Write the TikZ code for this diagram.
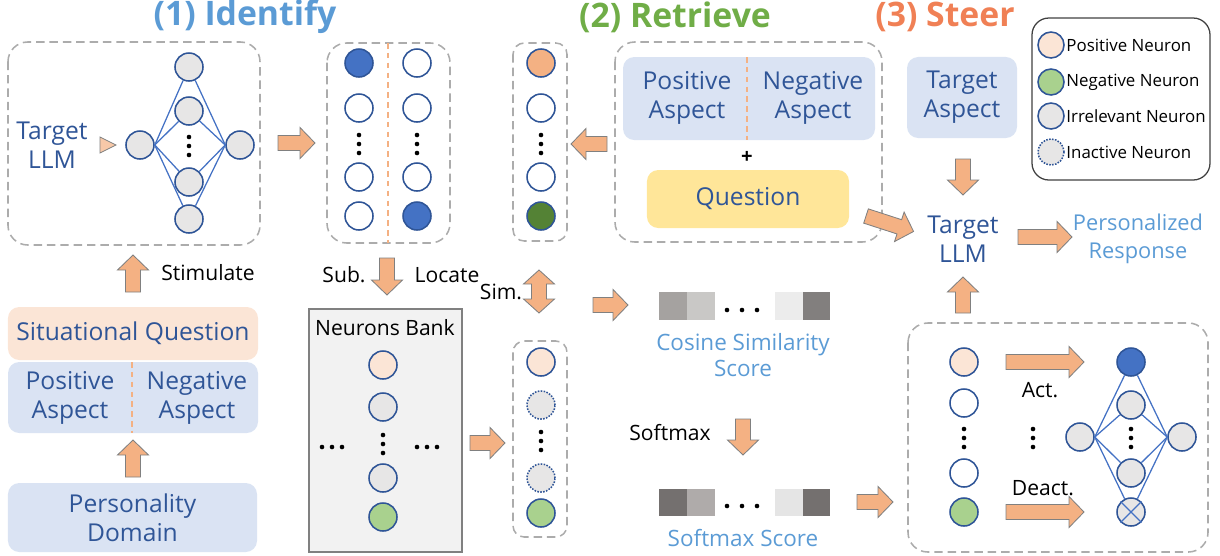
\documentclass[tikz,border=0pt]{standalone}
\usepackage{fontspec}
\setmainfont{Open Sans}
\usetikzlibrary{positioning}

\definecolor{nblue}{RGB}{47,85,151}
\definecolor{lblue}{RGB}{91,155,213}
\definecolor{boxblue}{RGB}{218,227,243}
\definecolor{peach}{RGB}{251,229,214}
\definecolor{qyellow}{RGB}{255,230,153}
\definecolor{aorange}{RGB}{244,177,131}
\definecolor{fblue}{RGB}{68,114,196}
\definecolor{dgreen}{RGB}{84,130,53}
\definecolor{lgreen}{RGB}{169,209,142}
\definecolor{ngray}{RGB}{231,230,230}
\definecolor{tgreen}{RGB}{112,173,71}
\definecolor{torange}{RGB}{240,128,85}

\tikzset{
  neuron/.style={circle, draw=nblue, line width=1.1pt, fill=ngray, minimum size=0.7cm, inner sep=0pt},
  emptyn/.style={neuron, fill=white},
  inact/.style={neuron, densely dotted},
  panel/.style={draw=gray!65, line width=1.1pt, dash pattern=on 6pt off 3.5pt, rounded corners=14pt},
  tagbox/.style={fill=boxblue, rounded corners=8pt, inner sep=0pt},
  blabel/.style={text=nblue, font=\fontsize{17.5}{20.5}\selectfont, align=center},
  blk/.style={text=black, font=\fontsize{15}{17}\selectfont},
  scoretxt/.style={text=lblue, font=\fontsize{16}{18}\selectfont, align=center},
  title/.style={font=\bfseries\fontsize{24}{28}\selectfont},
  legtxt/.style={text=black, font=\fontsize{12}{14}\selectfont, inner sep=1pt},
  wire/.style={draw=fblue, line width=0.9pt},
  divider/.style={draw=aorange, line width=1pt, dash pattern=on 4pt off 3pt},
  barrowstyle/.style={fill=aorange, draw=gray, line width=0.6pt},
  pics/vdots/.style={code={\foreach \d in {-9,0,9} \fill (0,\d) circle (2.3);}},
  pics/hdots/.style={code={\foreach \d in {-1,0,1} \fill (#1*\d,0) circle (2.3);}},
}

\newcommand{\barrow}[4]{%
  \begin{scope}[shift={(#1,#2)}, rotate=#3]
    \filldraw[barrowstyle] (0,-7.5) -- (#4-15,-7.5) -- (#4-15,-15.5) -- (#4,0)
      -- (#4-15,15.5) -- (#4-15,7.5) -- (0,7.5) -- cycle;
  \end{scope}}

\begin{document}
\begin{tikzpicture}[x=0.025cm, y=-0.025cm]
  \useasboundingbox (0,0) rectangle (1220,555);

  \node[title, text=lblue] (t1) at (245,17) {(1) Identify};
  \node[title, text=tgreen] (t2) at (675,17) {(2) Retrieve};
  \node[title, text=torange] (t3) at (945,17) {(3) Steer};

  \draw[panel] (8,42) rectangle (260,245);
  \node[blabel] (llm1) at (52,145) {Target\\LLM};
  \filldraw[fill=aorange!70, draw=gray, line width=0.6pt] (100,137) -- (116,145) -- (100,153) -- cycle;
  \node[neuron] (l1) at (140,145) {};
  \node[neuron] (m1) at (189,67) {};
  \node[neuron] (m2) at (189,111) {};
  \pic at (189,146) {vdots};
  \node[neuron] (m3) at (189,182) {};
  \node[neuron] (m4) at (189,219) {};
  \node[neuron] (r1) at (240,145) {};
  \foreach \m in {m1,m2,m3,m4}
    \draw[wire] (l1.east) -- (\m) (\m) -- (r1.west);

  \barrow{278}{143}{0}{37}

  \draw[panel] (327,43) rectangle (450,243);
  \draw[divider] (388,43) -- (388,243);
  \node[neuron, fill=fblue] (a1) at (359,63) {};
  \node[emptyn] (a2) at (359,108) {};
  \pic at (359,144) {vdots};
  \node[emptyn] (a3) at (359,177) {};
  \node[emptyn] (a4) at (359,216) {};
  \node[emptyn] (b1) at (417,63) {};
  \node[emptyn] (b2) at (417,108) {};
  \pic at (417,144) {vdots};
  \node[emptyn] (b3) at (417,177) {};
  \node[neuron, fill=fblue] (b4) at (417,216) {};

  \draw[panel, rounded corners=8pt] (513,43) rectangle (567,241);
  \node[neuron, fill=aorange] (c1) at (541,63) {};
  \node[emptyn] (c2) at (541,108) {};
  \pic at (541,144) {vdots};
  \node[emptyn] (c3) at (541,177) {};
  \node[neuron, fill=dgreen] (c4) at (541,216) {};

  \barrow{607}{144}{180}{36}

  \draw[panel] (615,42) rectangle (882,242);
  \fill[boxblue, rounded corners=8pt] (623,57) rectangle (875,140);
  \draw[divider] (747,57) -- (747,140);
  \node[blabel] (pos2) at (687,98) {Positive\\Aspect};
  \node[blabel] (neg2) at (813,98) {Negative\\Aspect};
  \node[font=\bfseries\Large] (plus) at (747,157) {+};
  \node[tagbox, fill=qyellow, minimum width=5.05cm, minimum height=1.45cm, blabel] (quest) at (748,199) {Question};

  \barrow{866}{216}{-18}{50}

  \node[tagbox, minimum width=2.75cm, minimum height=2.025cm, blabel] (aspect) at (962,97.5) {Target\\Aspect};
  \barrow{963}{159}{-90}{36}
  \node[blabel] (llm3) at (963,239) {Target\\LLM};
  \barrow{1018}{237}{0}{54}
  \node[blabel, text=lblue, font=\fontsize{15.5}{19.5}\selectfont] (resp) at (1138,239) {Personalized\\Response};
  \barrow{963}{313}{90}{36}

  \draw[draw=black!75, line width=0.9pt, rounded corners=12pt] (1032,18) rectangle (1210,180);
  \node[neuron, fill=peach, minimum size=0.65cm] (kpos) at (1051,45) {};
  \node[legtxt, right=0pt of kpos] (tpos) {Positive Neuron};
  \node[neuron, fill=lgreen, minimum size=0.65cm] (kneg) at (1051,82) {};
  \node[legtxt, right=0pt of kneg] (tneg) {Negative Neuron};
  \node[neuron, minimum size=0.65cm] (kirr) at (1051,116) {};
  \node[legtxt, right=0pt of kirr] (tirr) {Irrelevant Neuron};
  \node[inact, minimum size=0.65cm] (kina) at (1051,152) {};
  \node[legtxt, right=0pt of kina] (tina) {Inactive Neuron};

  \barrow{133}{292}{90}{37}
  \node[blk] (stim) at (208,273) {Stimulate};
  \node[tagbox, fill=peach, minimum width=6.25cm, minimum height=1.325cm, blabel] (sitq) at (133,333.5) {Situational Question};
  \fill[boxblue, rounded corners=8pt] (8,362) rectangle (258,433);
  \draw[divider] (132,362) -- (132,433);
  \node[blabel] (pos1) at (70,398) {Positive\\Aspect};
  \node[blabel] (neg1) at (197,398) {Negative\\Aspect};
  \barrow{133}{477}{90}{37}
  \node[tagbox, minimum width=6.225cm, minimum height=1.725cm, blabel] (domain) at (132.5,517.5) {Personality\\Domain};

  \node[blk] (sub) at (344,275) {Sub.};
  \barrow{387}{258}{-90}{37}
  \node[blk] (loc) at (447,275) {Locate};
  \node[blk] (sim) at (501,292) {Sim.};
  \begin{scope}[shift={(539,291.5)}, rotate=90]
    \filldraw[barrowstyle] (-7.5,-7.5) -- (7.5,-7.5) -- (7.5,-15.5) -- (21.5,0) -- (7.5,15.5) -- (7.5,7.5)
      -- (-7.5,7.5) -- (-7.5,15.5) -- (-21.5,0) -- (-7.5,-15.5) -- cycle;
  \end{scope}

  \draw[fill=gray!10, draw=gray, line width=0.8pt] (309,309) rectangle (462,552);
  \node[blk] (bank) at (385,328) {Neurons Bank};
  \node[neuron, fill=peach] (n1) at (383,365) {};
  \node[neuron] (n2) at (383,407) {};
  \pic at (383,444) {vdots};
  \node[neuron] (n3) at (383,478) {};
  \node[neuron, fill=lgreen] (n4) at (383,517) {};
  \pic at (332,447) {hdots=10};
  \pic at (427,447) {hdots=10};

  \barrow{470}{443}{0}{35}

  \draw[panel, rounded corners=8pt] (513,341) rectangle (567,537);
  \node[neuron, fill=peach] (d1) at (541,362) {};
  \node[inact] (d2) at (541,405) {};
  \pic at (541,441) {vdots};
  \node[inact] (d3) at (541,478) {};
  \node[neuron, fill=lgreen] (d4) at (541,513) {};

  \barrow{593}{305}{0}{35}
  \fill[fill={rgb,255:red,165;green,162;blue,160}] (659,292) rectangle (687,320);
  \fill[fill={rgb,255:red,201;green,200;blue,198}] (687,292) rectangle (715,320);
  \pic at (742,310) {hdots=15};
  \fill[fill={rgb,255:red,236;green,236;blue,236}] (775,292) rectangle (803,320);
  \fill[fill={rgb,255:red,130;green,127;blue,126}] (803,292) rectangle (830,320);
  \node[scoretxt] (cos) at (743,355) {Cosine Similarity\\Score};

  \node[blk] (soft) at (670,433) {Softmax};
  \barrow{743}{419}{-90}{36}
  \fill[fill={rgb,255:red,116;green,112;blue,111}] (659,489) rectangle (687,516);
  \fill[fill={rgb,255:red,175;green,171;blue,170}] (687,489) rectangle (715,516);
  \pic at (742,506) {hdots=15};
  \fill[fill={rgb,255:red,229;green,229;blue,229}] (775,489) rectangle (803,516);
  \fill[fill={rgb,255:red,116;green,112;blue,111}] (803,489) rectangle (830,516);
  \node[scoretxt] (smx) at (743,538) {Softmax Score};

  \barrow{857}{502}{0}{36}

  \draw[panel] (908,323) rectangle (1208,552);
  \node[neuron, fill=peach] (e1) at (964,362) {};
  \node[emptyn] (e2) at (964,403) {};
  \pic at (964,438) {vdots};
  \node[emptyn] (e3) at (964,473) {};
  \node[neuron, fill=lgreen] (e4) at (964,512) {};
  \barrow{1006}{362}{0}{78}
  \node[blk] (act) at (1040,390) {Act.};
  \pic at (1033,438) {vdots};
  \node[blk] (deact) at (1043,488) {Deact.};
  \barrow{1006}{512}{0}{78}

  \node[neuron] (l2) at (1080,437) {};
  \node[neuron, fill=fblue] (s1) at (1131,362) {};
  \node[neuron] (s2) at (1131,405) {};
  \pic at (1131,438) {vdots};
  \node[neuron] (s3) at (1131,473) {};
  \node[neuron] (s4) at (1131,512) {};
  \node[neuron] (r2) at (1182,437) {};
  \draw[wire] (s4.45) -- (s4.225) (s4.135) -- (s4.315);
  \foreach \m in {s1,s2,s3,s4}
    \draw[wire] (l2.east) -- (\m) (\m) -- (r2.west);

\end{tikzpicture}
\end{document}
